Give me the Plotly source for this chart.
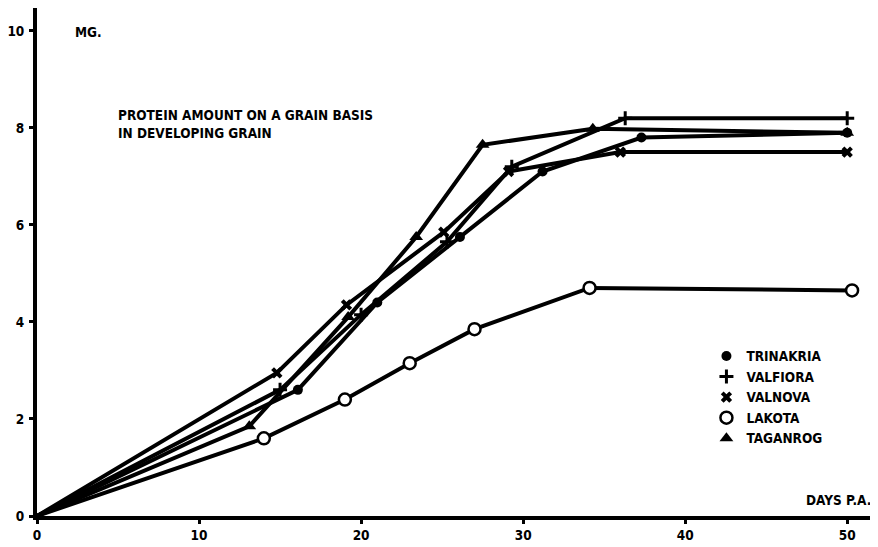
import plotly.graph_objects as go

# ---- data ----
series_names = ["TRINAKRIA", "VALFIORA", "VALNOVA", "LAKOTA", "TAGANROG"]

trin_x = [0, 16.1, 21.0, 26.1, 31.2, 37.3, 50.0]
trin_y = [0, 2.6, 4.4, 5.75, 7.1, 7.8, 7.9]

valf_x = [0, 15.0, 20.0, 25.3, 29.3, 36.3, 50.0]
valf_y = [0, 2.6, 4.15, 5.65, 7.2, 8.2, 8.2]

valn_x = [0, 14.8, 19.1, 25.1, 29.1, 36.0, 50.0]
valn_y = [0, 2.95, 4.35, 5.85, 7.1, 7.5, 7.5]

lak_x = [0, 14.0, 19.0, 23.0, 27.0, 34.1, 50.3]
lak_y = [0, 1.6, 2.4, 3.15, 3.85, 4.7, 4.65]

tag_x = [0, 13.1, 19.2, 23.4, 27.5, 34.3, 50.0]
tag_y = [0, 1.85, 4.1, 5.75, 7.65, 7.98, 7.9]

x_ticks = [0, 10, 20, 30, 40, 50]
y_ticks = [0, 2, 4, 6, 8, 10]

FONT = "DejaVu Sans Condensed"
BLACK = "#000000"
FS = 13.5

markers = [
    dict(symbol="circle", size=10, color=BLACK, line=dict(width=0)),
    dict(symbol="cross-thin", size=10, color=BLACK, line=dict(color=BLACK, width=3)),
    dict(symbol="x", size=10, color=BLACK, line=dict(width=0)),
    dict(symbol="circle", size=12, color="white", line=dict(color=BLACK, width=2.5)),
    dict(symbol="triangle-up", size=12, color=BLACK, line=dict(width=0)),
]
data = [(trin_x, trin_y), (valf_x, valf_y), (valn_x, valn_y), (lak_x, lak_y), (tag_x, tag_y)]

fig = go.Figure()
for (xs, ys), name in zip(data, series_names):
    fig.add_trace(go.Scatter(
        x=xs, y=ys, mode="lines",
        line=dict(color=BLACK, width=4), showlegend=False, hoverinfo="skip",
    ))
for (xs, ys), m, name in zip(data, markers, series_names):
    fig.add_trace(go.Scatter(
        x=xs[1:], y=ys[1:], mode="markers", marker=m, showlegend=False,
        cliponaxis=False, name=name,
    ))
for m, name in zip(markers, series_names):
    fig.add_trace(go.Scatter(
        x=[None], y=[None], mode="markers", marker=m, name=name, showlegend=True,
    ))

tickfont = dict(family=FONT, size=FS, color=BLACK, weight="bold")

# The page body has an 8px margin, so the figure is 8px smaller than the window.
fig.update_layout(
    width=870, height=539,
    margin=dict(l=29, r=0, t=0, b=31, autoexpand=False),
    paper_bgcolor="white", plot_bgcolor="white",
    font=dict(family=FONT, size=FS, color=BLACK, weight="bold"),
    showlegend=True,
    legend=dict(
        x=0.796, y=0.345, xanchor="left", yanchor="top",
        bgcolor="rgba(0,0,0,0)", borderwidth=0, tracegroupgap=0,
        font=dict(family=FONT, size=FS, color=BLACK, weight="bold"),
        itemsizing="trace",
    ),
    xaxis=dict(
        range=[0, 51.9], showgrid=False, zeroline=False, automargin=False,
        showline=True, linecolor=BLACK, linewidth=4,
        tickmode="array", tickvals=x_ticks, ticktext=[str(v) for v in x_ticks],
        ticks="outside", ticklen=4, tickwidth=2.5, tickcolor=BLACK,
        tickfont=tickfont,
    ),
    yaxis=dict(
        range=[0, 10.47], showgrid=False, zeroline=False, automargin=False,
        showline=True, linecolor=BLACK, linewidth=4,
        tickmode="array", tickvals=y_ticks, ticktext=[str(v) for v in y_ticks],
        ticks="outside", ticklen=4, tickwidth=2.5, tickcolor=BLACK,
        ticklabelstandoff=2,
        tickfont=tickfont,
    ),
    annotations=[
        dict(text="MG.", x=2.2, y=9.98, xref="x", yref="y", xanchor="left", yanchor="middle",
             showarrow=False, font=dict(family=FONT, size=FS, color=BLACK, weight="bold")),
        dict(text="PROTEIN AMOUNT ON A GRAIN BASIS<br>IN DEVELOPING GRAIN", x=4.9, y=8.08,
             xref="x", yref="y", xanchor="left", yanchor="middle", align="left",
             showarrow=False, font=dict(family=FONT, size=FS, color=BLACK, weight="bold")),
        dict(text="DAYS P.A.", x=51.6, y=0.33, xref="x", yref="y", xanchor="right",
             yanchor="middle", showarrow=False,
             font=dict(family=FONT, size=FS, color=BLACK, weight="bold")),
    ],
)

fig.write_html("out.html")
